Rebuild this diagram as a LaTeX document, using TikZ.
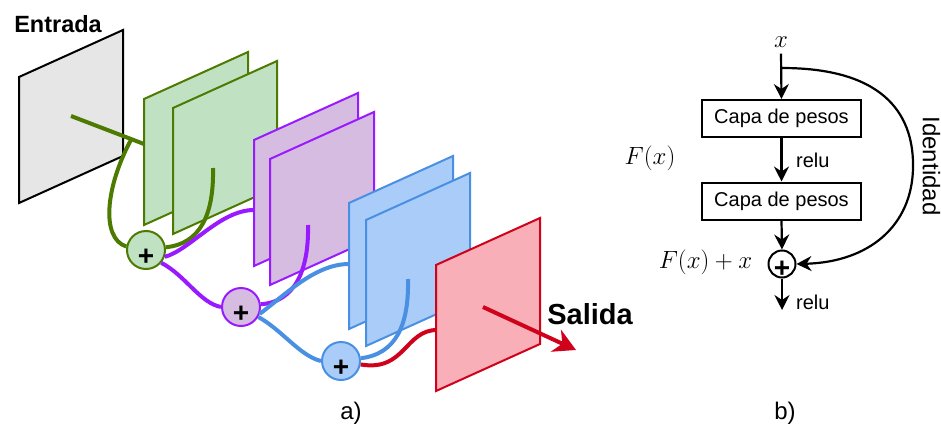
\documentclass[tikz,border=0pt]{standalone}
\usepackage{fontspec}
\setmainfont{Liberation Sans}
\usetikzlibrary{arrows.meta}
\definecolor{grayFill}{HTML}{E6E6E6}
\definecolor{grnLine}{HTML}{4D7A00}
\definecolor{grnFill}{HTML}{C0E2C3}
\definecolor{purLine}{HTML}{991AFF}
\definecolor{purFill}{HTML}{D7BCE1}
\definecolor{bluLine}{HTML}{4A90E2}
\definecolor{bluFill}{HTML}{A9CDF8}
\definecolor{redLine}{HTML}{D0021B}
\definecolor{redFill}{HTML}{F8AFB7}
\newcommand{\rnPanel}[3]{\filldraw[line width=2pt, draw=#1, fill=#2] (#3) -- ++(104,-47) -- ++(0,126) -- ++(-104,47) -- cycle;}
\newcommand{\rnSize}[1]{\fontsize{#1}{#1}\selectfont}

\begin{document}
\begin{tikzpicture}[x=1pt,y=-1pt,
  wire/.style={line width=4pt},
  sumnode/.style 2 args={circle, minimum size=38pt, inner sep=0pt, line width=2pt, draw=#1, fill=#2},
  plussign/.style={inner sep=0pt, font=\rnSize{28}\bfseries},
  layer/.style={draw, line width=2pt, minimum width=159pt, minimum height=37pt, inner sep=0pt, font=\rnSize{20}},
  flow/.style={line width=2.2pt, -{Stealth[length=15pt,width=15pt,inset=5pt]}},
  small/.style={inner sep=0pt, font=\rnSize{20}},
  mathlbl/.style={inner sep=0pt, font=\rnSize{24}}]
\useasboundingbox (0,0) rectangle (941,428);
\node[sumnode={grnLine}{grnFill}] (sumA) at (146,250) {};
\node[sumnode={purLine}{purFill}] (sumB) at (241,307) {};
\node[sumnode={bluLine}{bluFill}] (sumC) at (341,361) {};
\node[plussign] (plusA) at ([yshift=-7pt]sumA.center) {+};
\node[plussign] (plusB) at ([yshift=-7pt]sumB.center) {+};
\node[plussign] (plusC) at ([yshift=-7pt]sumC.center) {+};
\rnPanel{black}{grayFill}{19,77}
\coordinate (inA) at (71,116);
\coordinate (inB) at (144,144);
\coordinate (brA) at (132,138);
\draw[wire, grnLine] (inA) -- (inB);
\draw[wire, grnLine] (brA) .. controls (106,185) and (100,238) .. (sumA.170);
\rnPanel{grnLine}{grnFill}{144,99}
\rnPanel{grnLine}{grnFill}{173,108}
\coordinate (outA) at (213,168);
\draw[wire, grnLine] (outA) .. controls (214,215) and (200,244) .. (sumA.8);
\coordinate (inP) at (254,210);
\draw[wire, purLine] (sumA.-20) .. controls (190,250) and (220,210) .. (inP);
\draw[wire, purLine] (sumA.-40) .. controls (185,275) and (200,303) .. (sumB.180);
\rnPanel{purLine}{purFill}{254,140}
\rnPanel{purLine}{purFill}{270,159}
\coordinate (outP) at (308,225);
\draw[wire, purLine] (outP) .. controls (309,270) and (295,302) .. (sumB.8);
\coordinate (inQ) at (349,264);
\draw[wire, bluLine] (sumB.-20) .. controls (285,295) and (315,264) .. (inQ);
\draw[wire, bluLine] (sumB.-30) .. controls (282,330) and (300,356) .. (sumC.180);
\rnPanel{bluLine}{bluFill}{349,203}
\rnPanel{bluLine}{bluFill}{366,220}
\coordinate (outQ) at (408,279);
\draw[wire, bluLine] (outQ) .. controls (409,325) and (396,354) .. (sumC.8);
\coordinate (inR) at (437,330);
\draw[wire, redLine] (sumC.-10) .. controls (405,372) and (405,330) .. (inR);
\rnPanel{redLine}{redFill}{436,265}
\coordinate (outR) at (483,307);
\coordinate (tipR) at (576,350);
\draw[wire, redLine, -{Stealth[length=22pt,width=24pt,inset=7pt]}] (outR) -- (tipR);
\node[inner sep=0pt, font=\rnSize{23.5}\bfseries] (entrada) at (58,24) {Entrada};
\node[inner sep=0pt, font=\rnSize{29}\bfseries] (salida) at (590,314) {Salida};
\node[inner sep=0pt, font=\rnSize{24}] (capA) at (351,413) {a)};
\node[mathlbl] (xin) at (781,42) {$x$};
\coordinate (split) at (782,68);
\node[layer] (wA) at (781.5,118.5) {Capa de pesos};
\node[layer] (wB) at (781.5,201) {Capa de pesos};
\node[circle, draw, line width=2pt, minimum size=27pt, inner sep=0pt] (sumR) at (782,264) {};
\node[plussign] (plusR) at ([yshift=-5pt]sumR.center) {+};
\coordinate (outY) at (782,310);
\coordinate (bend) at (913,168);
\draw[flow] ([yshift=-6pt]xin.south) -- (wA.north);
\draw[flow] (wA.south) -- (wB.north);
\draw[flow] (wB.south) -- (sumR.north);
\draw[flow] (sumR.south) -- (outY);
\draw[flow] (split) .. controls (890,68) and (914,120) .. (bend) .. controls (912,225) and (870,262) .. (sumR.east);
\node[small, anchor=west] (reluA) at (796,160) {relu};
\node[small, anchor=west] (reluB) at (796,302) {relu};
\node[mathlbl] (fx) at (650,158) {$F(x)$};
\node[mathlbl] (fxx) at (705.5,262) {$F(x)+x$};
\node[inner sep=0pt, font=\rnSize{24}, rotate=-90] (ident) at (931.5,166) {Identidad};
\node[inner sep=0pt, font=\rnSize{24}] (capB) at (785,413) {b)};
\end{tikzpicture}
\end{document}
